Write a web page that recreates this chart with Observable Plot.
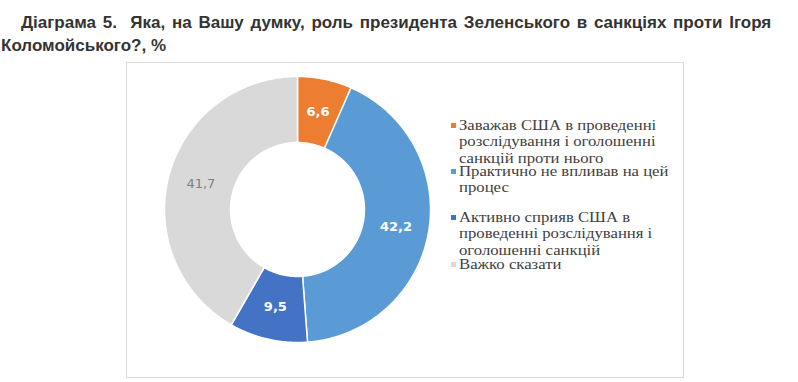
<!DOCTYPE html>
<html><head><meta charset="utf-8">
<script src="https://cdn.jsdelivr.net/npm/d3@7"></script>
<script src="https://cdn.jsdelivr.net/npm/@observablehq/plot@0.6"></script>
<style>
body{margin:0;background:#fff;width:798px;height:382px;position:relative;overflow:hidden;font-family:"Liberation Sans",Arial,sans-serif;}
#title{position:absolute;left:1px;top:11px;font-weight:bold;font-size:17px;color:#333;line-height:23px;white-space:nowrap;}
#title .l1{padding-left:20px;word-spacing:2px;}
#frame{position:absolute;left:126px;top:62px;width:556px;height:314px;border:1px solid #d9d9d9;}
#chart{position:absolute;left:0;top:0;}
.leg{position:absolute;left:332px;font-family:"Liberation Serif","Times New Roman",serif;font-size:15.2px;line-height:16.3px;color:#404040;white-space:nowrap;}
.leg .txt{display:inline-block;transform:scaleX(1.1);transform-origin:0 0;}
.leg .sw{position:absolute;left:-8px;top:6px;width:5px;height:5px;}
</style></head>
<body>
<div id="title"><div class="l1">Діаграма 5.&nbsp; Яка, на Вашу думку, роль президента Зеленського в санкціях проти Ігоря</div><div>Коломойського?, %</div></div>
<div id="frame"><div id="chart"></div></div>
<script>
const categories = [
  "Заважав США в проведенні розслідування і оголошенні санкцій проти нього",
  "Практично не впливав на цей процес",
  "Активно сприяв США в проведенні розслідування і оголошенні санкцій",
  "Важко сказати"
];
const values = [6.6, 42.2, 9.5, 41.7];
const colors = ["#ED7D31", "#5B9BD5", "#4472C4", "#D9D9D9"];
const labelColors = ["#ffffff", "#ffffff", "#ffffff", "#7f7f7f"];
const labelWeights = ["bold", "bold", "bold", "normal"];
const legendLines = [
  ["Заважав США в проведенні", "розслідування і оголошенні", "санкцій проти нього"],
  ["Практично не впливав на цей", "процес"],
  ["Активно сприяв США в", "проведенні розслідування і", "оголошенні санкцій"],
  ["Важко сказати"]
];
const legendTops = [54, 100, 146, 193];

const RO = 60, RI = 30.2;
const total = d3.sum(values);
let acc = 0;
const slices = values.map((v, i) => {
  const t0 = acc / total * 360; acc += v; const t1 = acc / total * 360;
  const n = Math.max(2, Math.ceil((t1 - t0) / 0.5));
  const ring = [];
  for (let k = 0; k <= n; k++) { const t = t0 + (t1 - t0) * k / n; ring.push([180 - t, 90 - RO]); }
  for (let k = n; k >= 0; k--) { const t = t0 + (t1 - t0) * k / n; ring.push([180 - t, 90 - RI]); }
  ring.push(ring[0]);
  return {type: "Feature", properties: {category: categories[i], value: v, mid: (t0 + t1) / 2, i},
          geometry: {type: "Polygon", coordinates: [ring]}};
});
const labels = slices.map(s => ({
  lon: 180 - s.properties.mid, lat: 90 - (RO + RI) / 2,
  text: String(s.properties.value).replace(".", ","), i: s.properties.i
}));

const domain = d3.geoCircle().center([0, 90]).radius(RO)();
const W = 556, H = 314;
const plot = Plot.plot({
  width: W, height: H,
  marginLeft: 37, marginTop: 13, marginRight: W - 37 - 266, marginBottom: H - 13 - 266,
  projection: {type: "azimuthal-equidistant", rotate: [0, -90], domain, inset: 0},
  color: {domain: categories, range: colors},
  marks: [
    Plot.geo(slices, {fill: d => d.properties.category, stroke: "#ffffff", strokeWidth: 1.5}),
    ...labels.map(l => Plot.text([l], {x: "lon", y: "lat", text: "text",
      fill: labelColors[l.i], fontWeight: labelWeights[l.i], fontSize: 13,
      fontFamily: "DejaVu Sans, Verdana, sans-serif"}))
  ]
});
document.getElementById("chart").appendChild(plot);

const frame = document.getElementById("frame");
legendLines.forEach((lines, i) => {
  const d = document.createElement("div");
  d.className = "leg";
  d.style.top = legendTops[i] + "px";
  d.innerHTML = `<span class="sw" style="background:${colors[i]}"></span><span class="txt">` + lines.join("<br>") + "</span>";
  frame.appendChild(d);
});
</script>
</body></html>
